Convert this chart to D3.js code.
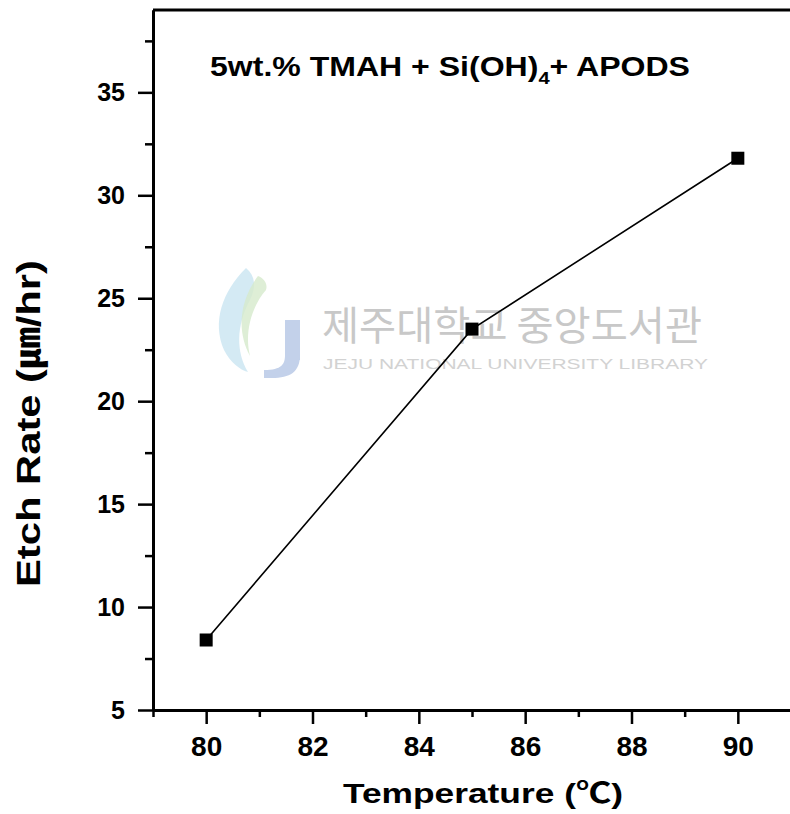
<!DOCTYPE html>
<html>
<head>
<meta charset="utf-8">
<script src="https://cdn.jsdelivr.net/npm/d3@7"></script>
<style>
  html, body { margin: 0; padding: 0; background: #fff; }
  svg { display: block; }
  text { font-family: "Liberation Sans", Arial, "Noto Sans CJK KR", sans-serif; font-weight: bold; }
</style>
</head>
<body>
<div id="chart"></div>
<script>
// Data
const temperatures = [80, 85, 90];
const etchRates = [8.4, 23.5, 31.8];

const xMajorTicks = [80, 82, 84, 86, 88, 90];
const xMinorTicks = [79, 81, 83, 85, 87, 89, 91];
const yMajorTicks = [5, 10, 15, 20, 25, 30, 35];
const yMinorTicks = [7.5, 12.5, 17.5, 22.5, 27.5, 32.5, 37.5];

const width = 790, height = 814;
const plot = { left: 153, top: 10, right: 791, bottom: 710 };

const svg = d3.select('#chart').append('svg')
    .attr('width', width)
    .attr('height', height);

const x = d3.scaleLinear().domain([79, 91]).range([plot.left, plot.right]);
const y = d3.scaleLinear().domain([5, 39]).range([plot.bottom, plot.top]);

// Watermark (library stamp)
const wm = svg.append('g').attr('class', 'watermark');
wm.append('path')
    .attr('d', 'M246,268 C222,292 212,322 224,350 C230,362 240,370 248,372 C236,352 236,326 250,300 C256,288 256,276 246,268 Z')
    .attr('fill', '#c9e5f1').attr('opacity', 0.8);
wm.append('path')
    .attr('d', 'M258,276 C240,300 236,330 250,356 C244,332 252,306 266,290 C268,284 264,278 258,276 Z')
    .attr('fill', '#d6eacc').attr('opacity', 0.8);
wm.append('rect')
    .attr('x', 285).attr('y', 320).attr('width', 15).attr('height', 40)
    .attr('fill', '#c3d1ea');
wm.append('path')
    .attr('d', 'M300,355 C300,372 290,378 272,378 L264,378 L264,370 C282,370 285,364 285,355 Z')
    .attr('fill', '#c3d1ea');
wm.append('text')
    .attr('x', 322).attr('y', 340)
    .attr('font-size', 40)
    .style('font-family', '"Noto Sans CJK KR", sans-serif')
    .style('font-weight', 'normal')
    .attr('fill', '#c8c8c8')
    .attr('textLength', 380)
    .attr('lengthAdjust', 'spacingAndGlyphs')
    .text('제주대학교 중앙도서관');
wm.append('text')
    .attr('x', 323).attr('y', 369)
    .attr('font-size', 15)
    .style('font-weight', 'normal')
    .attr('fill', '#d2d2d2')
    .attr('textLength', 385)
    .attr('lengthAdjust', 'spacingAndGlyphs')
    .text('JEJU NATIONAL UNIVERSITY  LIBRARY');

// Top frame line
svg.append('line')
    .attr('x1', plot.left).attr('x2', plot.right)
    .attr('y1', plot.top).attr('y2', plot.top)
    .attr('stroke', '#000').attr('stroke-width', 3);

// Axes
const xAxis = svg.append('g')
    .attr('transform', `translate(0,${plot.bottom})`)
    .call(d3.axisBottom(x).tickValues(xMajorTicks).tickSize(14).tickSizeOuter(0).tickPadding(12));
const xMinor = svg.append('g')
    .attr('transform', `translate(0,${plot.bottom})`)
    .call(d3.axisBottom(x).tickValues(xMinorTicks).tickSize(7).tickSizeOuter(0).tickFormat(''));

const yAxis = svg.append('g')
    .attr('transform', `translate(${plot.left},0)`)
    .call(d3.axisLeft(y).tickValues(yMajorTicks).tickSize(15).tickSizeOuter(0).tickPadding(13));
const yMinor = svg.append('g')
    .attr('transform', `translate(${plot.left},0)`)
    .call(d3.axisLeft(y).tickValues(yMinorTicks).tickSize(8).tickSizeOuter(0).tickFormat(''));

[xAxis, xMinor, yAxis, yMinor].forEach(g => {
    g.select('.domain').attr('stroke', '#000').attr('stroke-width', 3);
    g.selectAll('.tick line').attr('stroke', '#000').attr('stroke-width', 2.5);
});
xAxis.selectAll('.tick text').attr('font-size', 28).attr('fill', '#000');
yAxis.selectAll('.tick text').attr('font-size', 25).attr('fill', '#000');

// Line + markers
const pts = temperatures.map((t, i) => ({ t, r: etchRates[i] }));
svg.append('path')
    .datum(pts)
    .attr('fill', 'none')
    .attr('stroke', '#000')
    .attr('stroke-width', 1.6)
    .attr('d', d3.line().x(d => x(d.t)).y(d => y(d.r)));

const sz = 13;
svg.append('g').selectAll('rect')
    .data(pts)
    .enter().append('rect')
    .attr('x', d => x(d.t) - sz / 2)
    .attr('y', d => y(d.r) - sz / 2)
    .attr('width', sz).attr('height', sz)
    .attr('fill', '#000');

// Title
const title = svg.append('text')
    .attr('x', 210).attr('y', 76)
    .attr('font-size', 27)
    .attr('fill', '#000')
    .attr('textLength', 480)
    .attr('lengthAdjust', 'spacingAndGlyphs');
title.append('tspan').text('5wt.% TMAH + Si(OH)');
title.append('tspan').attr('font-size', 17).attr('dy', 8).text('4');
title.append('tspan').attr('dy', -8).text('+ APODS');

// Axis titles
svg.append('text')
    .attr('x', 343).attr('y', 803)
    .attr('font-size', 28)
    .attr('fill', '#000')
    .attr('textLength', 280)
    .attr('lengthAdjust', 'spacingAndGlyphs')
    .text('Temperature (℃)');

svg.append('text')
    .attr('transform', 'translate(40,587) rotate(-90)')
    .attr('font-size', 34)
    .attr('fill', '#000')
    .attr('textLength', 327)
    .attr('lengthAdjust', 'spacingAndGlyphs')
    .text('Etch Rate (㎛/hr)');
</script>
</body>
</html>
